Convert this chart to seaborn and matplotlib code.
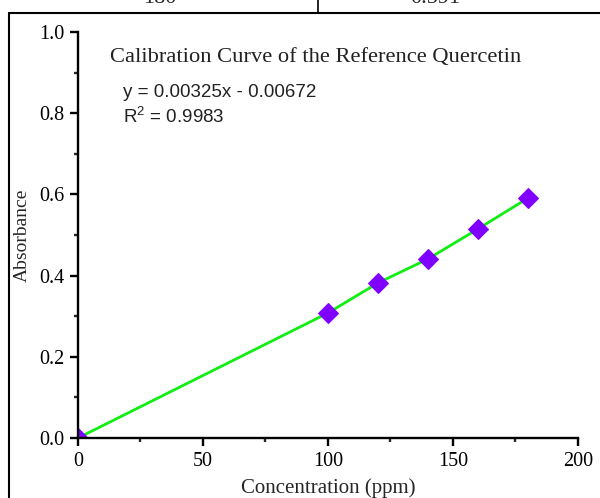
import matplotlib
matplotlib.use("Agg")
import matplotlib.pyplot as plt
import seaborn as sns
import pandas as pd
from matplotlib.ticker import MultipleLocator
from matplotlib.lines import Line2D

concentration = [0, 100, 120, 140, 160, 180]
absorbance = [0.0, 0.308, 0.382, 0.441, 0.515, 0.591]
title_text = "Calibration Curve of the Reference Quercetin"
equation_text = "y = 0.00325x - 0.00672"
r2_text = "R$^2$ = 0.9983"
table_cells = ["180", "0.591"]

sns.set_style("ticks")
plt.rcParams['font.family'] = ['Liberation Serif', 'DejaVu Serif']
plt.rcParams['mathtext.fontset'] = 'custom'
plt.rcParams['mathtext.rm'] = 'Liberation Sans'

df = pd.DataFrame({"Concentration (ppm)": concentration, "Absorbance": absorbance})

fig = plt.figure(figsize=(6, 4.98), dpi=100)
ax = fig.add_axes([0.13, 0.1205, 0.8333, 0.8152])

sns.lineplot(data=df, x="Concentration (ppm)", y="Absorbance", ax=ax,
             color="#11ee11", linewidth=2.0, marker="D", markersize=10.5,
             markerfacecolor="#8000ff", markeredgecolor="#8000ff", zorder=2)

ax.set_xlim(0, 200)
ax.set_ylim(0, 1.0)
ax.xaxis.set_major_locator(MultipleLocator(50))
ax.xaxis.set_minor_locator(MultipleLocator(25))
ax.yaxis.set_major_locator(MultipleLocator(0.2))
ax.yaxis.set_minor_locator(MultipleLocator(0.1))
ax.set_yticklabels([f"{v:.1f}" for v in ax.get_yticks()])

for s in ["top", "right"]:
    ax.spines[s].set_visible(False)
for s in ["left", "bottom"]:
    ax.spines[s].set_linewidth(1.7)
    ax.spines[s].set_color("black")
    ax.spines[s].set_zorder(5)

ax.tick_params(axis="both", which="major", direction="out", length=6, width=1.7,
               labelsize=14.5, colors="black", pad=4)
ax.tick_params(axis="both", which="minor", direction="out", length=3, width=1.7)

ax.set_xlabel("Concentration (ppm)", fontsize=15, labelpad=5)
ax.set_ylabel("Absorbance", fontsize=14, labelpad=6)

ax.text(0.065, 0.937, title_text, transform=ax.transAxes, fontsize=16.2,
        ha="left", va="center", color="#222222")
ax.text(0.09, 0.852, equation_text, transform=ax.transAxes, fontsize=13.5,
        ha="left", va="center", family=["Liberation Sans", "DejaVu Sans"], color="#222222")
ax.text(0.09, 0.792, r2_text, transform=ax.transAxes, fontsize=13.5,
        ha="left", va="center", family=["Liberation Sans", "DejaVu Sans"], color="#222222")

# surrounding frame of the document figure (cut at right/bottom)
W, H = 600, 498
fig.add_artist(Line2D([9 / W, 9 / W], [0, 1 - 13 / H], transform=fig.transFigure,
                      color="black", linewidth=1.5))
fig.add_artist(Line2D([9 / W, 1], [1 - 13 / H, 1 - 13 / H], transform=fig.transFigure,
                      color="black", linewidth=1.5))
# partial table row above
fig.add_artist(Line2D([318 / W, 318 / W], [1 - 12 / H, 1], transform=fig.transFigure,
                      color="black", linewidth=1.2))
fig.text(160 / W, 1 - 3 / H, table_cells[0], fontsize=16, ha="center", va="baseline")
fig.text(435 / W, 1 - 3 / H, table_cells[1], fontsize=16, ha="center", va="baseline")

fig.savefig("out.png", dpi=100)
